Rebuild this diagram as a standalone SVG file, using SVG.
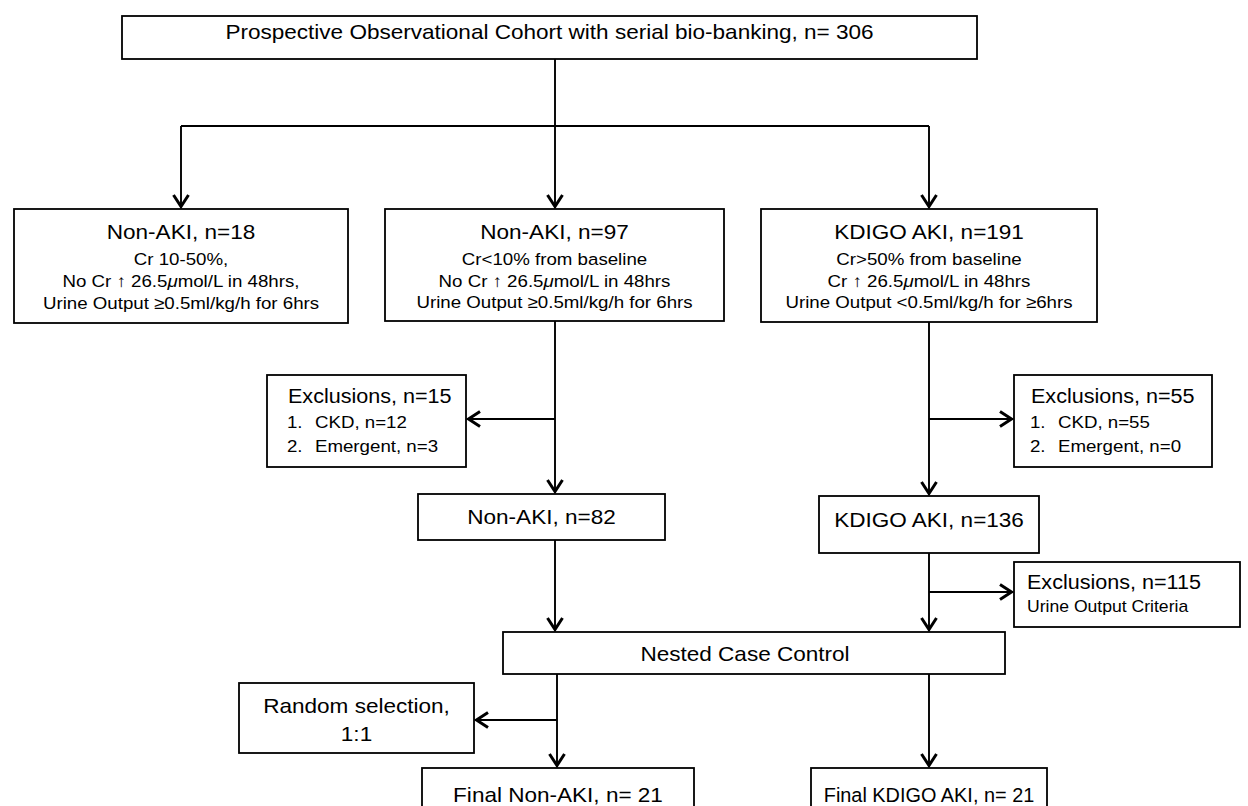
<svg xmlns="http://www.w3.org/2000/svg" width="1248" height="806" viewBox="0 0 1248 806">
<style>
text{font-family:"Liberation Sans",Arial,Helvetica,sans-serif;fill:#000}
.c{text-anchor:middle}
.h{font-size:20.5px}
.hx{font-size:19.6px}
.s{font-size:17px}
.s2{font-size:16px}
.box{fill:#fff;stroke:#000;stroke-width:1.8}
.ln{fill:none;stroke:#000;stroke-width:1.9}
.i{font-style:italic}
</style>
<defs>
<marker id="ah" markerUnits="userSpaceOnUse" markerWidth="24" markerHeight="24" viewBox="-18 -12 24 24" refX="0" refY="0" orient="auto">
<path d="M-13,-7.5 L-1.5,0 L-13,7.5" fill="none" stroke="#000" stroke-width="3"/>
</marker>
</defs>
<rect width="1248" height="806" fill="#fff"/>

<g id="connectors">
<path class="ln" d="M555,59 V126"/>
<path class="ln" d="M181,126 H929"/>
<path class="ln" d="M181,126 V208" marker-end="url(#ah)"/>
<path class="ln" d="M555,126 V208" marker-end="url(#ah)"/>
<path class="ln" d="M929,126 V208" marker-end="url(#ah)"/>
<path class="ln" d="M555,321 V493" marker-end="url(#ah)"/>
<path class="ln" d="M555,419 H467" marker-end="url(#ah)"/>
<path class="ln" d="M929,322 V495" marker-end="url(#ah)"/>
<path class="ln" d="M929,419 H1013" marker-end="url(#ah)"/>
<path class="ln" d="M555,540 V631" marker-end="url(#ah)"/>
<path class="ln" d="M929,553 V631" marker-end="url(#ah)"/>
<path class="ln" d="M929,592 H1013" marker-end="url(#ah)"/>
<path class="ln" d="M557,674 V767" marker-end="url(#ah)"/>
<path class="ln" d="M557,720 H475" marker-end="url(#ah)"/>
<path class="ln" d="M929,674 V767" marker-end="url(#ah)"/>
</g>

<g id="cohort">
<rect class="box" x="122" y="16" width="855" height="43"/>
<g transform="translate(549.5 0) scale(1.1 1)"><text class="c h" y="39">Prospective Observational Cohort with serial bio-banking, n= 306</text></g>
</g>

<g id="nonaki18">
<rect class="box" x="14" y="209" width="334" height="114"/>
<g transform="translate(181 0) scale(1.1 1)">
<text class="c h" y="239.5">Non-AKI, n=18</text>
<text class="c s" y="265.5">Cr 10-50%,</text>
<text class="c s" y="287.3">No Cr ↑ 26.5<tspan class="i">μ</tspan>mol/L in 48hrs,</text>
<text class="c s" y="309.3">Urine Output ≥0.5ml/kg/h for 6hrs</text>
</g>
</g>

<g id="nonaki97">
<rect class="box" x="385" y="209" width="339" height="112"/>
<g transform="translate(554.5 0) scale(1.1 1)">
<text class="c h" y="239.5">Non-AKI, n=97</text>
<text class="c s" y="265">Cr&lt;10% from baseline</text>
<text class="c s" y="286.7">No Cr ↑ 26.5<tspan class="i">μ</tspan>mol/L in 48hrs</text>
<text class="c s" y="308.3">Urine Output ≥0.5ml/kg/h for 6hrs</text>
</g>
</g>

<g id="kdigo191">
<rect class="box" x="761" y="209" width="336" height="113"/>
<g transform="translate(929 0) scale(1.1 1)">
<text class="c h" y="239.5">KDIGO AKI, n=191</text>
<text class="c s" y="265">Cr&gt;50% from baseline</text>
<text class="c s" y="286.7">Cr ↑ 26.5<tspan class="i">μ</tspan>mol/L in 48hrs</text>
<text class="c s" y="308.3">Urine Output &lt;0.5ml/kg/h for ≥6hrs</text>
</g>
</g>

<g id="excl15">
<rect class="box" x="267" y="375" width="199" height="92"/>
<g transform="translate(288 0) scale(1.1 1)">
<text class="hx" x="0" y="403.5">Exclusions, n=15</text>
<text class="s" x="-1" y="428">1.</text><text class="s" x="24.5" y="428">CKD, n=12</text>
<text class="s" x="-1" y="452.5">2.</text><text class="s" x="24.5" y="452.5">Emergent, n=3</text>
</g>
</g>

<g id="excl55">
<rect class="box" x="1014" y="375" width="198" height="92"/>
<g transform="translate(1031 0) scale(1.1 1)">
<text class="hx" x="0" y="403.5">Exclusions, n=55</text>
<text class="s" x="-1" y="428">1.</text><text class="s" x="24.5" y="428">CKD, n=55</text>
<text class="s" x="-1" y="452.5">2.</text><text class="s" x="24.5" y="452.5">Emergent, n=0</text>
</g>
</g>

<g id="nonaki82">
<rect class="box" x="418" y="494" width="247" height="46"/>
<g transform="translate(541.5 0) scale(1.1 1)"><text class="c h" y="524.5">Non-AKI, n=82</text></g>
</g>

<g id="kdigo136">
<rect class="box" x="819" y="496" width="220" height="57"/>
<g transform="translate(929 0) scale(1.1 1)"><text class="c h" y="527">KDIGO AKI, n=136</text></g>
</g>

<g id="excl115">
<rect class="box" x="1014" y="562" width="226" height="65"/>
<g transform="translate(1027 0) scale(1.1 1)">
<text class="hx" x="0" y="589">Exclusions, n=115</text>
<text class="s2" x="0" y="612">Urine Output Criteria</text>
</g>
</g>

<g id="nested">
<rect class="box" x="503" y="632" width="502" height="42"/>
<g transform="translate(745 0) scale(1.1 1)"><text class="c h" y="661.5">Nested Case Control</text></g>
</g>

<g id="random">
<rect class="box" x="239" y="683" width="235" height="70"/>
<g transform="translate(356.5 0) scale(1.1 1)">
<text class="c h" y="713.5">Random selection,</text>
<text class="c h" y="741">1:1</text>
</g>
</g>

<g id="finalnonaki">
<rect class="box" x="422" y="768" width="272" height="60"/>
<g transform="translate(558 0) scale(1.1 1)"><text class="c h" y="802">Final Non-AKI, n= 21</text></g>
</g>

<g id="finalkdigo">
<rect class="box" x="811" y="768" width="236" height="60"/>
<g transform="translate(929 0) scale(1.02 1)"><text class="c" style="font-size:19.5px" y="802">Final KDIGO AKI, n= 21</text></g>
</g>
</svg>
